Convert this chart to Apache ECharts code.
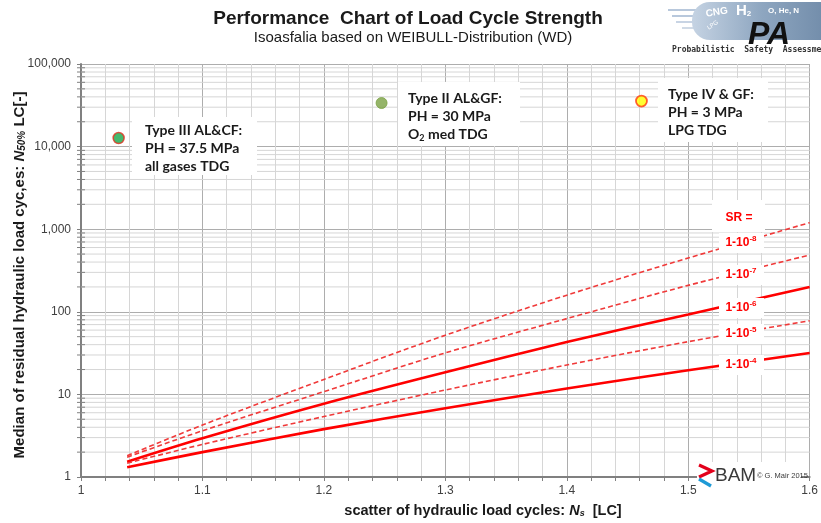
<!DOCTYPE html>
<html><head><meta charset="utf-8">
<script src="https://cdn.jsdelivr.net/npm/echarts@6/dist/echarts.min.js"></script>
<style>html,body{margin:0;padding:0;background:#fff}#c{width:821px;height:523px}</style>
</head><body><div id="c"></div>
<script>
// ---- data ----
const xs  = [1.038, 1.1, 1.2, 1.3, 1.4, 1.5, 1.6];
const sr8 = [1.81, 4.26, 15.2, 52, 159, 448, 1200];
const sr7 = [1.74, 3.63, 10.8, 31.8, 82.7, 209, 487];
const sr6 = [1.53, 2.94, 7.7, 18.5, 43, 93, 200];
const sr5 = [1.47, 2.48, 5.4, 11.3, 22.7, 43.5, 78];
const sr4 = [1.31, 2.0, 3.8, 6.8, 11.8, 19.6, 31.7];
const typeNames = ['Type III AL&CF', 'Type II AL&GF', 'Type IV & GF'];
const typeX = [1.031, 1.2475, 1.4615];
const typeY = [12700, 33700, 35600];
const xTicks = [1, 1.1, 1.2, 1.3, 1.4, 1.5, 1.6];
const yTicks = [1, 10, 100, 1000, 10000, 100000];
const yMinor = [2,3,4,5,6,7,8,9, 20,30,40,50,60,70,80,90, 200,300,400,500,600,700,800,900,
  2000,3000,4000,5000,6000,7000,8000,9000, 20000,30000,40000,50000,60000,70000,80000,90000];

const RED = '#ff0000', RED2 = '#f03a3a';
const zip = a => xs.map((x, i) => [x, a[i]]);

const chart = echarts.init(document.getElementById('c'), null, {renderer: 'canvas'});

function line(name, arr, dashed) {
  return {
    name, type: 'line', data: zip(arr), smooth: 0.3, symbol: 'none', z: 3,
    lineStyle: dashed ? {color: RED2, width: 1.6, type: [5, 3]} : {color: RED, width: 2.6}
  };
}

const bold = '"Liberation Sans", Arial, sans-serif';
const cal = 'Lato, "Open Sans", sans-serif';

function annot(x, y, w, h, tx, ty, rich, text) {
  return [
    {type: 'rect', z: 20, shape: {x, y, width: w, height: h}, style: {fill: '#fff'}},
    {type: 'text', z: 21, x: tx, y: ty, style: {text, rich, fontFamily: cal, fontWeight: 'bold', fontSize: 14, fill: '#1a1a1a', lineHeight: 18}}
  ];
}
const annRich = {
  b: {fontFamily: cal, fontWeight: 'bold', fontSize: 14, fill: '#1a1a1a', lineHeight: 18},
  s: {fontFamily: cal, fontWeight: 'bold', fontSize: 9, fill: '#1a1a1a', lineHeight: 18, verticalAlign: 'bottom', padding: [6, 0, 0, 0]}
};

const srRich = {
  m: {fontFamily: bold, fontWeight: 'bold', fontSize: 12, fill: RED, lineHeight: 16},
  e: {fontFamily: bold, fontWeight: 'bold', fontSize: 8, fill: RED, lineHeight: 16, verticalAlign: 'top', padding: [0, 0, 7, 0]}
};
function srLabel(cy, exp) {
  return [
    {type: 'rect', z: 20, shape: {x: 719, y: cy - 10, width: 45, height: 20}, style: {fill: '#fff'}},
    {type: 'text', z: 21, x: 741, y: cy, style: {text: '{m|1-10}{e|' + exp + '}', rich: srRich, align: 'center', verticalAlign: 'middle'}}
  ];
}

const graphics = [
  // title
  {type: 'text', x: 408, y: 19, z: 30, style: {text: 'Performance  Chart of Load Cycle Strength', fontFamily: bold, fontWeight: 'bold', fontSize: 19, fill: '#1a1a1a', align: 'center', verticalAlign: 'middle'}},
  {type: 'text', x: 413, y: 38, z: 30, style: {text: 'Isoasfalia based on WEIBULL-Distribution (WD)', fontFamily: bold, fontSize: 15, fill: '#1a1a1a', align: 'center', verticalAlign: 'middle'}},
  // axis names
  {type: 'text', x: 20, y: 275, rotation: Math.PI / 2, z: 30, style: {
    text: '{a|Median of residual hydraulic load cyc,es: }{i|N}{s|50%}{a| LC[-]}', align: 'center', verticalAlign: 'middle',
    rich: {a: {fontFamily: bold, fontWeight: 'bold', fontSize: 15, fill: '#1a1a1a'},
           i: {fontFamily: bold, fontWeight: 'bold', fontStyle: 'italic', fontSize: 15, fill: '#1a1a1a'},
           s: {fontFamily: bold, fontWeight: 'bold', fontStyle: 'italic', fontSize: 10, fill: '#1a1a1a', verticalAlign: 'bottom', padding: [5, 0, 0, 0]}}}},
  {type: 'text', x: 483, y: 511, z: 30, style: {
    text: '{a|scatter of hydraulic load cycles: }{i|N}{s|s}{a|  [LC]}', align: 'center', verticalAlign: 'middle',
    rich: {a: {fontFamily: bold, fontWeight: 'bold', fontSize: 14.5, fill: '#1a1a1a'},
           i: {fontFamily: bold, fontWeight: 'bold', fontStyle: 'italic', fontSize: 14.5, fill: '#1a1a1a'},
           s: {fontFamily: bold, fontWeight: 'bold', fontStyle: 'italic', fontSize: 9, fill: '#1a1a1a', verticalAlign: 'bottom', padding: [6, 0, 0, 0]}}}},
  // annotations
  ...annot(132, 117, 125, 58, 145, 121, annRich, '{b|Type III AL&CF:}\n{b|PH = 37.5 MPa}\n{b|all gases TDG}'),
  ...annot(398, 82, 122, 64, 408, 89, annRich, '{b|Type II AL&GF:}\n{b|PH = 30 MPa}\n{b|O}{s|2}{b| med TDG}'),
  ...annot(658, 78, 110, 64, 668, 85, annRich, '{b|Type IV & GF:}\n{b|PH = 3 MPa}\n{b|LPG TDG}'),
  // SR labels
  {type: 'rect', z: 20, shape: {x: 712, y: 200, width: 53, height: 32}, style: {fill: '#fff'}},
  {type: 'text', z: 21, x: 739, y: 218, style: {text: 'SR =', fontFamily: bold, fontWeight: 'bold', fontSize: 12, fill: RED, align: 'center', verticalAlign: 'middle'}},
  ...srLabel(243, '-8'), ...srLabel(275, '-7'), ...srLabel(308, '-6'), ...srLabel(334, '-5'), ...srLabel(365, '-4'),
  // BAM logo
  {type: 'rect', z: 20, shape: {x: 697, y: 462, width: 104, height: 24}, style: {fill: '#fff'}},
  {type: 'polyline', z: 21, shape: {points: [[699, 465], [712, 471], [699, 477]]}, style: {stroke: '#e3001b', lineWidth: 3.2, fill: null}},
  {type: 'polyline', z: 21, shape: {points: [[699, 479], [711, 486]]}, style: {stroke: '#1e9ad6', lineWidth: 3.2, fill: null}},
  {type: 'text', z: 21, x: 715, y: 476, style: {text: 'BAM', fontFamily: bold, fontSize: 19, fill: '#3a3a3a', verticalAlign: 'middle'}},
  {type: 'text', z: 21, x: 757, y: 476, style: {text: '\u00a9 G. Mair 2015', fontFamily: bold, fontSize: 7.5, fill: '#3a3a3a', verticalAlign: 'middle'}},
  // PA logo
  {type: 'line', z: 21, shape: {x1: 668, y1: 10, x2: 700, y2: 10}, style: {stroke: '#b8c8dc', lineWidth: 2}},
  {type: 'line', z: 21, shape: {x1: 672, y1: 16, x2: 700, y2: 16}, style: {stroke: '#b8c8dc', lineWidth: 2}},
  {type: 'line', z: 21, shape: {x1: 676, y1: 22, x2: 700, y2: 22}, style: {stroke: '#c8d4e4', lineWidth: 2}},
  {type: 'line', z: 21, shape: {x1: 682, y1: 28, x2: 700, y2: 28}, style: {stroke: '#d0dae6', lineWidth: 2}},
  {type: 'rect', z: 21, shape: {x: 692, y: 2, width: 140, height: 38, r: [18, 0, 0, 18]}, style: {fill: new echarts.graphic.LinearGradient(0, 0, 1, 0, [{offset: 0, color: '#c5d3e3'}, {offset: 0.5, color: '#8ea6c0'}, {offset: 1, color: '#6f8aa8'}])}},
  {type: 'text', z: 22, x: 705, y: 9, rotation: 0.15, style: {text: 'CNG', fontFamily: bold, fontWeight: 'bold', fontSize: 10, fill: '#fff'}},
  {type: 'text', z: 22, x: 736, y: 3, style: {text: '{h|H}{s|2}', rich: {h: {fontFamily: bold, fontWeight: 'bold', fontSize: 15, fill: '#fff'}, s: {fontFamily: bold, fontWeight: 'bold', fontSize: 8, fill: '#fff', verticalAlign: 'bottom'}}}},
  {type: 'text', z: 22, x: 768, y: 7, style: {text: 'O, He, N', fontFamily: bold, fontWeight: 'bold', fontSize: 8, fill: '#fff'}},
  {type: 'text', z: 22, x: 706, y: 26, rotation: 0.6, style: {text: 'LPG', fontFamily: bold, fontSize: 6, fill: '#fff'}},
  {type: 'text', z: 22, x: 748, y: 19, style: {text: 'PA', fontFamily: bold, fontWeight: 'bold', fontStyle: 'italic', fontSize: 32, fill: '#111'}},
  {type: 'text', z: 22, x: 672, y: 46, style: {text: 'Probabilistic  Safety  Assessment', fontFamily: '"DejaVu Sans Mono", monospace', fontWeight: 'bold', fontSize: 8, fill: '#333'}}
];

const option = {
  animation: false,
  backgroundColor: '#fff',
  grid: {left: 81, right: 8, top: 64, bottom: 46, containLabel: false},
  xAxis: {
    type: 'value', min: xTicks[0], max: xTicks[xTicks.length - 1], interval: 0.1,
    axisLine: {lineStyle: {color: '#808080', width: 2}},
    axisTick: {show: true, length: 4, lineStyle: {color: '#808080'}},
    minorTick: {show: true, splitNumber: 5, length: 4, lineStyle: {color: '#808080'}},
    splitLine: {show: true, lineStyle: {color: '#adadad'}},
    minorSplitLine: {show: true, lineStyle: {color: '#d6d6d6'}},
    axisLabel: {color: '#404040', fontSize: 12, fontFamily: bold, margin: 8, formatter: v => String(+v.toFixed(1))}
  },
  yAxis: {
    type: 'log', logBase: 10, min: yTicks[0], max: yTicks[yTicks.length - 1],
    axisLine: {show: true, lineStyle: {color: '#808080', width: 2}},
    axisTick: {show: true, length: 4, lineStyle: {color: '#808080'}},
    splitLine: {show: true, lineStyle: {color: '#adadad'}},
    axisLabel: {color: '#404040', fontSize: 12, fontFamily: bold, margin: 10, formatter: v => Math.round(v).toLocaleString('en-US')}
  },
  graphic: graphics,
  series: [
    {
      type: 'custom', z: 1, silent: true, clip: false,
      data: yMinor.map(v => [xTicks[0], v]),
      encode: {x: 0, y: 1},
      renderItem: (params, api) => {
        const v = api.value(1);
        const p0 = api.coord([xTicks[0], v]);
        const p1 = api.coord([xTicks[xTicks.length - 1], v]);
        return {type: 'group', children: [
          {type: 'line', shape: {x1: p0[0], y1: p0[1], x2: p1[0], y2: p1[1]}, style: {stroke: '#d6d6d6', lineWidth: 1}},
          {type: 'line', shape: {x1: p0[0] - 4, y1: p0[1], x2: p0[0] + 4, y2: p0[1]}, style: {stroke: '#808080', lineWidth: 1}}
        ]};
      }
    },
    line('1-10^-8', sr8, true),
    line('1-10^-7', sr7, true),
    line('1-10^-6', sr6, false),
    line('1-10^-5', sr5, true),
    line('1-10^-4', sr4, false),
    {
      type: 'scatter', z: 5, symbolSize: 11,
      data: typeX.map((x, i) => ({
        name: typeNames[i], value: [x, typeY[i]],
        itemStyle: [
          {color: '#16a84a', borderColor: '#e0301e', borderWidth: 1.5},
          {color: '#7aa144', borderColor: '#7aa144', borderWidth: 1},
          {color: '#ffff00', borderColor: '#ff3a10', borderWidth: 1.8}
        ][i]
      }))
    }
  ]
};
chart.setOption(option);
</script></body></html>
